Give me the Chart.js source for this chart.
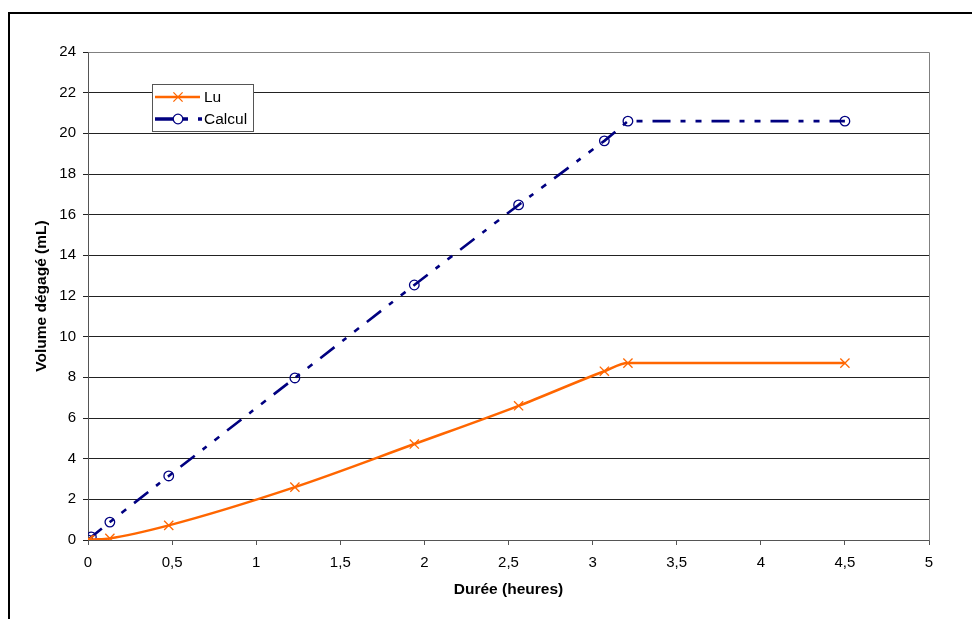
<!DOCTYPE html>
<html><head><meta charset="utf-8">
<script src="https://cdn.jsdelivr.net/npm/chart.js@4"></script>
<style>
html,body{margin:0;padding:0;background:#fff;overflow:hidden;width:972px;height:619px;}
#wrap{position:relative;width:972px;height:619px;}
#frame{position:absolute;left:8px;top:12px;width:1000px;height:700px;border-left:2px solid #000;border-top:2px solid #000;pointer-events:none;}
canvas{position:absolute;left:0;top:0;}
</style></head><body>
<div id="wrap"><canvas id="c" width="972" height="619"></canvas><div id="frame"></div></div>
<script>
const seriesNames = ['Lu', 'Calcul'];
const xLu = [0, 0.01, 0.13, 0.48, 1.23, 1.94, 2.56, 3.07, 3.21, 4.50];
const yLu = [0, 0.01, 0.08, 0.72, 2.6, 4.72, 6.6, 8.3, 8.7, 8.7];
const xCalcul = [0, 0.02, 0.13, 0.48, 1.23, 1.94, 2.56, 3.07, 3.21, 4.50];
const yCalcul = [0, 0.15, 0.88, 3.15, 7.97, 12.54, 16.48, 19.63, 20.6, 20.6];
const xTitle = 'Durée (heures)';
const yTitle = 'Volume dégagé (mL)';

const toPts = (xs, ys) => xs.map((x, i) => ({x, y: ys[i]}));
const fmt = v => String(v).replace('.', ',');
const FONT = 'Arial, "Liberation Sans", sans-serif';
const calcDash = [18, 10, 5, 10, 6, 10];

const plotBorder = {
  id: 'plotBorder',
  beforeDatasetsDraw(chart) {
    const {ctx, chartArea: a} = chart;
    ctx.save();
    ctx.strokeStyle = '#808080';
    ctx.lineWidth = 1;
    ctx.beginPath();
    ctx.moveTo(Math.round(a.left) + 0.5, Math.round(a.top) + 0.5);
    ctx.lineTo(Math.round(a.right) + 0.5, Math.round(a.top) + 0.5);
    ctx.lineTo(Math.round(a.right) + 0.5, Math.round(a.bottom) + 0.5);
    ctx.stroke();
    ctx.restore();
  }
};

const customLegend = {
  id: 'customLegend',
  afterDraw(chart) {
    const {ctx} = chart;
    const bx = 152, by = 84, bw = 101, bh = 47;
    ctx.save();
    ctx.fillStyle = '#fff';
    ctx.fillRect(bx, by, bw, bh);
    ctx.strokeStyle = '#555';
    ctx.lineWidth = 1;
    ctx.strokeRect(bx + 0.5, by + 0.5, bw, bh);
    const rows = [97, 119];
    chart.data.datasets.forEach((ds, i) => {
      const y = rows[i];
      ctx.strokeStyle = ds.borderColor;
      ctx.lineWidth = i === 0 ? ds.borderWidth : 3.5;
      ctx.setLineDash(ds.borderDash || []);
      ctx.beginPath();
      ctx.moveTo(155, y);
      ctx.lineTo(i === 0 ? 200 : 202, y);
      ctx.stroke();
      ctx.setLineDash([]);
      const mx = 178;
      ctx.lineWidth = ds.pointBorderWidth;
      ctx.strokeStyle = ds.pointBorderColor;
      if (ds.pointStyle === 'crossRot') {
        const r = ds.pointRadius * 0.707;
        ctx.beginPath();
        ctx.moveTo(mx - r, y - r); ctx.lineTo(mx + r, y + r);
        ctx.moveTo(mx - r, y + r); ctx.lineTo(mx + r, y - r);
        ctx.stroke();
      } else {
        ctx.fillStyle = '#fff';
        ctx.beginPath();
        ctx.arc(mx, y, ds.pointRadius, 0, Math.PI * 2);
        ctx.fill();
        ctx.stroke();
      }
      ctx.fillStyle = '#000';
      ctx.font = '15.5px ' + FONT;
      ctx.textBaseline = 'middle';
      ctx.textAlign = 'left';
      ctx.fillText(ds.label, 204, y + 1);
    });
    ctx.restore();
  }
};

new Chart(document.getElementById('c'), {
  type: 'line',
  data: {
    datasets: [
      {
        label: seriesNames[0],
        data: toPts(xLu, yLu),
        borderColor: '#FF6600',
        borderWidth: 2.5,
        cubicInterpolationMode: 'monotone',
        pointStyle: 'crossRot',
        pointRadius: 6.5,
        pointBorderColor: '#FF6600',
        pointBorderWidth: 1.3,
        pointBackgroundColor: '#FF6600',
        fill: false
      },
      {
        label: seriesNames[1],
        data: toPts(xCalcul, yCalcul),
        borderColor: '#000080',
        borderWidth: 2.6,
        borderDash: calcDash,
        tension: 0,
        pointStyle: 'circle',
        pointRadius: 4.8,
        pointBorderColor: '#000080',
        pointBorderWidth: 1.3,
        pointBackgroundColor: 'rgba(255,255,255,0)',
        fill: false
      }
    ]
  },
  options: {
    responsive: false,
    animation: false,
    devicePixelRatio: 1,
    layout: {padding: {left: 0, top: 52, right: 43, bottom: 0}},
    plugins: {legend: {display: false}, tooltip: {enabled: false}},
    scales: {
      x: {
        type: 'linear',
        min: 0, max: 5,
        afterFit(s) { s.height = 79; },
        border: {display: true, color: '#555', width: 1},
        grid: {drawOnChartArea: false, drawTicks: true, tickLength: 5, color: '#555'},
        ticks: {stepSize: 0.5, color: '#000', font: {family: FONT, size: 15}, padding: 9, maxRotation: 0,
          callback: v => fmt(v)},
        title: {display: true, text: xTitle, color: '#000', font: {family: FONT, size: 15.5, weight: 'bold'},
          padding: {top: 0, bottom: 20}}
      },
      y: {
        type: 'linear',
        min: 0, max: 24,
        afterFit(s) { s.width = 88; },
        border: {display: true, color: '#555', width: 1},
        grid: {drawOnChartArea: true, drawTicks: true, tickLength: 5, color: '#222', lineWidth: 1},
        ticks: {stepSize: 2, color: '#000', font: {family: FONT, size: 15}, padding: 7,
          callback: v => fmt(v)},
        title: {display: true, text: yTitle, color: '#000', font: {family: FONT, size: 15.5, weight: 'bold'},
          padding: {top: 32, bottom: 0}}
      }
    }
  },
  plugins: [plotBorder, customLegend]
});
</script>
</body></html>
